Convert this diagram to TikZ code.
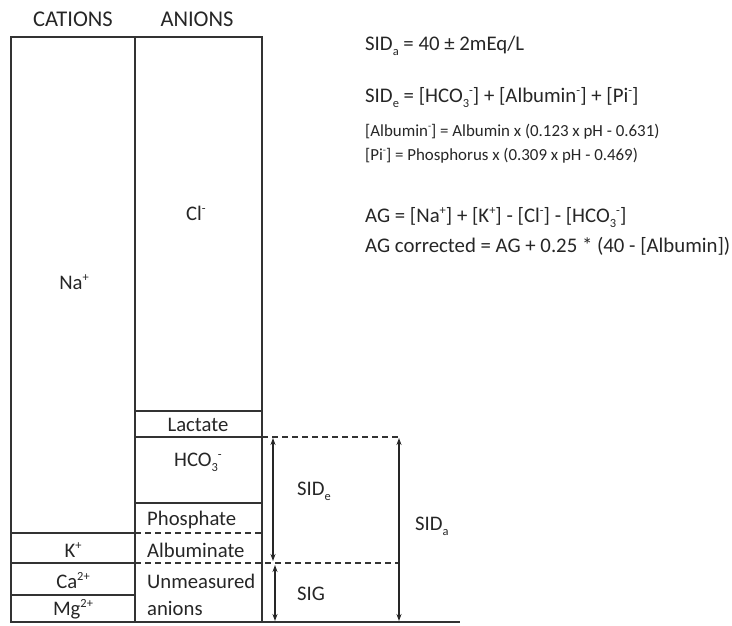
\documentclass[tikz,border=0pt]{standalone}
\usepackage{fontspec}
\setmainfont{Carlito}
\usetikzlibrary{arrows.meta}
\newcommand\sbs[1]{\raisebox{-0.55ex}{\scalebox{0.6}{#1}}}
\newcommand\sps[1]{\raisebox{0.75ex}{\scalebox{0.6}{#1}}}
\begin{document}
\begin{tikzpicture}[x=1pt,y=-1pt,
  box/.style={line width=1.8pt, draw=black!80},
  dline/.style={line width=1.6pt, draw=black!80, dash pattern=on 6pt off 4pt},
  arr/.style={line width=1.3pt, draw=black!85, {Stealth[length=7pt,width=5pt]}-{Stealth[length=7pt,width=5pt]}},
  lab/.style={font=\fontsize{20.7}{24}\selectfont, inner sep=0pt, text=black!85},
  head/.style={font=\fontsize{22.5}{26}\selectfont, inner sep=0pt, text=black!85},
  small/.style={font=\fontsize{16.9}{20}\selectfont, inner sep=0pt, text=black!85, anchor=base west},
  big/.style={font=\fontsize{20.8}{24}\selectfont, inner sep=0pt, text=black!85, anchor=base west},
]
\useasboundingbox (0,0) rectangle (732,625);
% columns
\draw[box] (11,37) rectangle (135,622);
\draw[box] (135,37) rectangle (262,622);
% cation separators
\draw[box] (11,533) -- (135,533);
\draw[box] (11,563) -- (135,563);
\draw[box] (11,595) -- (135,595);
% anion separators
\draw[box] (135,411) -- (262,411);
\draw[box] (135,437) -- (262,437);
\draw[box] (135,503) -- (262,503);
\draw[dline] (135,533) -- (262,533);
% baseline
\draw[box] (262,622) -- (460,622);
% dashed extensions
\coordinate (d1a) at (262,437);
\coordinate (d1b) at (400,437);
\coordinate (d2a) at (135,563);
\coordinate (d2b) at (400,563);
\draw[dline] (d1a) -- (d1b);
\draw[dline] (d2a) -- (d2b);
% arrows
\coordinate (e1) at (273,438);
\coordinate (e2) at (273,561);
\coordinate (g1) at (275,565);
\coordinate (g2) at (275,621);
\coordinate (a1) at (399,438);
\coordinate (a2) at (399,621);
\draw[arr] (e1) -- (e2);
\draw[arr] (g1) -- (g2);
\draw[arr] (a1) -- (a2);
% headers
\node[head] (hc) at (73,19) {CATIONS};
\node[head] (ha) at (197,19) {ANIONS};
% cations
\node[lab] (na) at (74,282) {Na\sps{+}};
\node[lab, anchor=base] (k) at (73,557) {K\sps{+}};
\node[lab, anchor=base] (ca) at (73,588) {Ca\sps{2+}};
\node[lab, anchor=base] (mg) at (73,615) {Mg\sps{2+}};
% anions
\node[lab] (cl) at (196,213) {Cl\sps{-}};
\node[lab, anchor=base] (lac) at (198,431) {Lactate};
\node[lab, anchor=base] (hco) at (198,466) {HCO\sbs{3}\sps{-}};
\node[lab, anchor=base west] (pho) at (147,525) {Phosphate};
\node[lab, anchor=base west] (alb) at (147,557) {Albuminate};
\node[lab, anchor=base west] (unm) at (147,588) {Unmeasured};
\node[lab, anchor=base west] (ani) at (147,615) {anions};
% right labels
\node[lab, anchor=base west] (side) at (297,495) {SID\sbs{e}};
\node[lab, anchor=base west] (sida) at (415,530) {SID\sbs{a}};
\node[lab, anchor=base west] (sig) at (297,600) {SIG};
% formulas
\node[big] (f1) at (365,50) {SID\sbs{a} = 40 ± 2mEq/L};
\node[big] (f2) at (365,102) {SID\sbs{e} = [HCO\sbs{3}\sps{-}] + [Albumin\sps{-}] + [Pi\sps{-}]};
\node[small] (f3) at (365,136) {[Albumin\sps{-}] = Albumin x (0.123 x pH - 0.631)};
\node[small] (f4) at (365,160) {[Pi\sps{-}] = Phosphorus x (0.309 x pH - 0.469)};
\node[big] (f5) at (365,222) {AG = [Na\sps{+}] + [K\sps{+}] - [Cl\sps{-}] - [HCO\sbs{3}\sps{-}]};
\node[big] (f6) at (365,252) {AG corrected = AG + 0.25 * (40 - [Albumin])};
\end{tikzpicture}
\end{document}
